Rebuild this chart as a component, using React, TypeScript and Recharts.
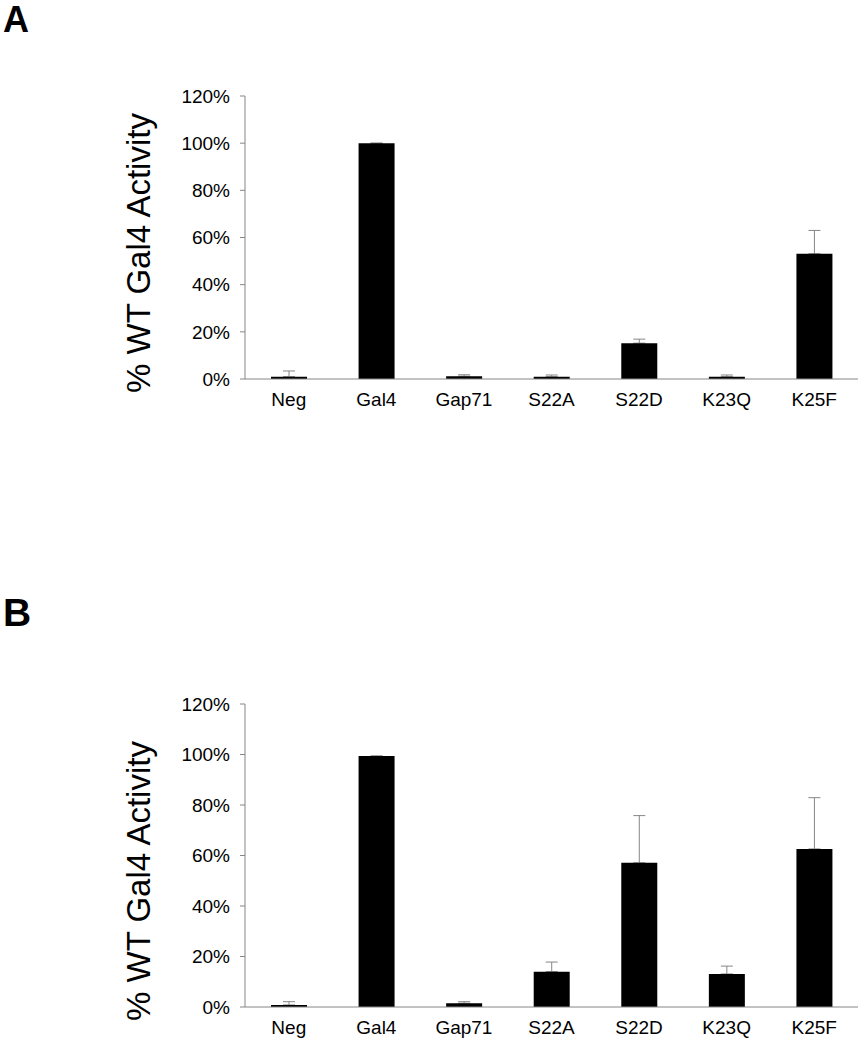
import { BarChart, Bar, XAxis, YAxis, ErrorBar } from "recharts";

const categories = ["Neg", "Gal4", "Gap71", "S22A", "S22D", "K23Q", "K25F"];
const activityA = [1.0, 100, 1.2, 1.0, 15.2, 1.0, 53.1];
const errorA = [2.4, 0, 0.6, 0.7, 1.7, 0.7, 9.9];
const activityB = [0.8, 99.4, 1.5, 14.0, 57.1, 13.1, 62.6];
const errorB = [1.3, 0, 0.6, 3.8, 18.7, 3.1, 20.3];
const yTicks = [0, 20, 40, 60, 80, 100, 120];
const edgeTicks = [0, 1, 2, 3, 4, 5, 6, 7];

const FONT = '"Liberation Sans", Arial, sans-serif';
const AXIS = "#868686";
const BAR_W = 36;

function Panel({ values, errors, top, plotTop, plotHeight }: { values: number[]; errors: number[]; top: number; plotTop: number; plotHeight: number }) {
    const data = categories.map((name, i) => ({ name, value: values[i], err: [0, errors[i]] }));
    const axisH = 40;

    return (
        <div style={{ position: "absolute", left: 0, top }}>
            <BarChart width={859} height={plotTop + plotHeight + axisH} data={data} barGap={-BAR_W}
                margin={{ top: plotTop, right: 1, bottom: 0, left: 0 }}>
                {/* boundary ticks between categories, Excel style */}
                <XAxis xAxisId="edge" type="number" domain={[0, 7]} ticks={edgeTicks} allowDataOverflow
                    height={0} axisLine={false} tick={false} tickSize={6} tickLine={{ stroke: AXIS }} />
                <XAxis dataKey="name" height={axisH} tickLine={false} tickSize={6} tickMargin={8}
                    axisLine={{ stroke: AXIS }} tick={{ fill: "#000", fontSize: 19, fontFamily: FONT }} interval={0} />
                <XAxis xAxisId="top" dataKey="name" orientation="top" height={0} tick={false} tickLine={false} axisLine={{ stroke: AXIS }} />
                <YAxis width={245} domain={[0, 120]} ticks={yTicks} tickFormatter={(v) => `${v}%`}
                    tickSize={5} tickMargin={10} tickLine={{ stroke: AXIS }} axisLine={{ stroke: AXIS }}
                    tick={{ fill: "#000", fontSize: 19, fontFamily: FONT }}
                    label={{
                        content: ({ viewBox }: any) => {
                            const x = viewBox.x + 138;
                            const y = viewBox.y + viewBox.height + 14;
                            return (
                                <text x={x} y={y} transform={`rotate(-90 ${x} ${y})`} textAnchor="start" dominantBaseline="central"
                                    fontSize={33} fontFamily={FONT} fill="#000">
                                    % WT Gal4 Activity
                                </text>
                            );
                        },
                    }} />
                <YAxis yAxisId="right" orientation="right" width={0} tick={false} tickLine={false} axisLine={{ stroke: AXIS }} />
                {/* error bars first, so the black bars hide the lower half */}
                <Bar dataKey="value" fill="none" barSize={BAR_W} isAnimationActive={false}>
                    <ErrorBar dataKey="err" width={6} stroke={AXIS} strokeWidth={1} direction="y" zIndex={250} />
                </Bar>
                <Bar dataKey="value" fill="#000" barSize={BAR_W} isAnimationActive={false} />
            </BarChart>
        </div>
    );
}

export default function App() {
    return (
        <div style={{ position: "absolute", left: 0, top: 0, width: 859, height: 1050, background: "#fff", overflow: "hidden" }}>
            <div style={{ position: "absolute", left: 3, top: 2, fontFamily: FONT, fontWeight: "bold", fontSize: 36, lineHeight: "36px" }}>A</div>
            <div style={{ position: "absolute", left: 3, top: 593, fontFamily: FONT, fontWeight: "bold", fontSize: 39, lineHeight: "39px" }}>B</div>
            <Panel values={activityA} errors={errorA} top={0} plotTop={96} plotHeight={283} />
            <Panel values={activityB} errors={errorB} top={600} plotTop={104} plotHeight={303} />
        </div>
    );
}
